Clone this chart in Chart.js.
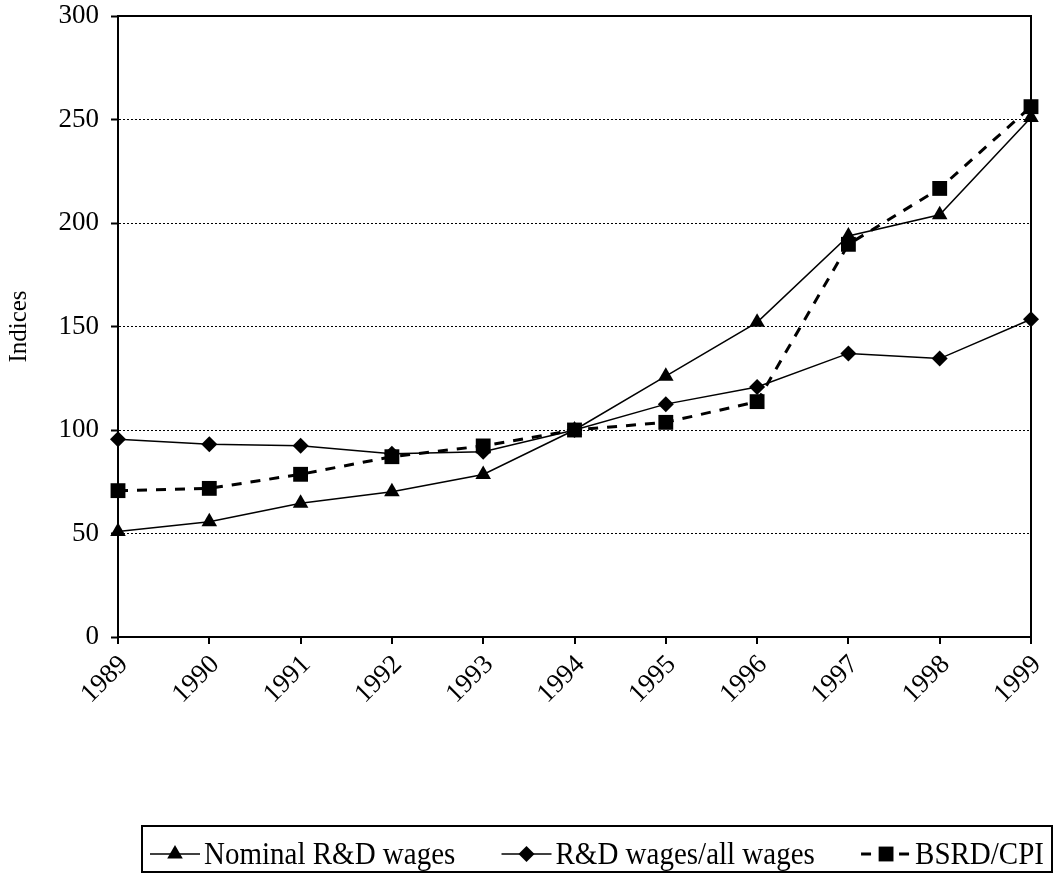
<!DOCTYPE html>
<html>
<head>
<meta charset="utf-8">
<script src="https://cdn.jsdelivr.net/npm/chart.js@4/dist/chart.umd.min.js"></script>
<style>
  html, body { margin: 0; padding: 0; background: #fff; }
  #wrap { width: 1057px; height: 873px; position: relative; }
</style>
</head>
<body>
<div id="wrap"><canvas id="chart" width="1057" height="873"></canvas></div>
<script>
/* ===== Data ===== */
const years    = ['1989','1990','1991','1992','1993','1994','1995','1996','1997','1998','1999'];
const nominal  = [51, 55.7, 64.6, 70.2, 78.5, 100, 126, 152, 193.7, 204, 251];
const relative = [95.5, 93.1, 92.4, 88.5, 89.5, 100, 112.5, 120.8, 137, 134.5, 153.5];
const bsrdCpi  = [70.7, 71.8, 78.6, 87.1, 92.3, 100, 103.7, 113.7, 189.7, 216.7, 256.2];
const seriesNames = ['Nominal R&D wages', 'R&D wages/all wages', 'BSRD/CPI'];

const FONT = '"Liberation Serif", "Times New Roman", serif';

// plot frame (top + right), solid
const framePlugin = {
  id: 'frame',
  beforeDatasetsDraw(chart) {
    const { ctx, chartArea: a } = chart;
    ctx.save();
    ctx.strokeStyle = '#000';
    ctx.lineWidth = 2;
    ctx.setLineDash([]);
    ctx.beginPath();
    ctx.moveTo(a.left, a.top);
    ctx.lineTo(a.right, a.top);
    ctx.lineTo(a.right, a.bottom);
    ctx.stroke();
    ctx.restore();
  }
};

// boxed legend with line + marker samples
const legendPlugin = {
  id: 'boxLegend',
  afterDraw(chart) {
    const ctx = chart.ctx;
    const box = { x: 142, y: 826, w: 910, h: 46 };
    const cy = 854;
    ctx.save();
    ctx.strokeStyle = '#000';
    ctx.lineWidth = 2;
    ctx.setLineDash([]);
    ctx.strokeRect(box.x, box.y, box.w, box.h);

    ctx.font = '29px ' + FONT;
    ctx.textBaseline = 'middle';
    const symW = 50, textGap = 4;
    const widths = chart.data.datasets.map(ds => ctx.measureText(ds.label).width);
    const used = widths.reduce((s, w) => s + w + symW + textGap, 0);
    const gap = (box.w - 16 - used) / 2;
    let x = box.x + 8;
    chart.data.datasets.forEach((ds, i) => {
      ctx.save();
      ctx.strokeStyle = '#000';
      ctx.lineWidth = ds.borderWidth;
      ctx.setLineDash(ds.borderDash || []);
      ctx.beginPath();
      ctx.moveTo(x, cy);
      ctx.lineTo(x + symW, cy);
      ctx.stroke();
      ctx.restore();
      Chart.helpers.drawPoint(ctx, {
        pointStyle: ds.pointStyle, radius: ds.pointRadius, borderWidth: 0, rotation: 0
      }, x + symW / 2, cy);
      // slightly taller glyphs, like the original
      ctx.save();
      ctx.translate(x + symW + textGap, cy + 1);
      ctx.scale(1, 1.12);
      ctx.fillStyle = '#000';
      ctx.fillText(ds.label, 0, 0);
      ctx.restore();
      x += symW + textGap + widths[i] + gap;
    });
    ctx.restore();
  }
};

const ctx = document.getElementById('chart').getContext('2d');

const common = {
  borderColor: '#000',
  backgroundColor: '#000',
  pointBackgroundColor: '#000',
  pointBorderColor: '#000',
  pointBorderWidth: 0,
  tension: 0,
  clip: false,
};

new Chart(ctx, {
  type: 'line',
  data: {
    labels: years,
    datasets: [
      { ...common, label: seriesNames[0], data: nominal,  borderWidth: 1.5, pointStyle: 'triangle', pointRadius: 9 },
      { ...common, label: seriesNames[1], data: relative, borderWidth: 1.5, pointStyle: 'rectRot',  pointRadius: 8 },
      { ...common, label: seriesNames[2], data: bsrdCpi,  borderWidth: 3, borderDash: [10, 9], pointStyle: 'rect', pointRadius: 10.5 },
    ]
  },
  options: {
    responsive: false,
    animation: false,
    layout: { padding: { left: 0, top: 16, right: 26, bottom: 0 } },
    plugins: {
      legend: { display: false },
      tooltip: { enabled: false }
    },
    scales: {
      x: {
        type: 'category',
        offset: false,
        afterFit: (s) => { s.height = 236; s.paddingLeft = 0; s.paddingRight = 0; },
        grid: { display: true, drawOnChartArea: false, drawTicks: true, tickLength: 7, color: '#000', lineWidth: 2 },
        border: { display: true, color: '#000', width: 2 },
        ticks: { color: '#000', font: { family: FONT, size: 27 }, minRotation: 45, maxRotation: 45, autoSkip: false, padding: 5, labelOffset: 6 }
      },
      y: {
        min: 0, max: 300,
        afterFit: (s) => { s.width = 118; s.paddingTop = 0; s.paddingBottom = 0; },
        title: { display: true, text: 'Indices', color: '#000', font: { family: FONT, size: 25 }, padding: 4 },
        grid: { color: '#000', lineWidth: 1, tickLength: 7, tickColor: '#000', tickWidth: 2, tickBorderDash: [] },
        border: { display: true, color: '#000', width: 2, dash: [2, 2] },
        ticks: { color: '#000', stepSize: 50, font: { family: FONT, size: 27, lineHeight: 1 }, padding: 12 }
      }
    }
  },
  plugins: [framePlugin, legendPlugin]
});
</script>
</body>
</html>
